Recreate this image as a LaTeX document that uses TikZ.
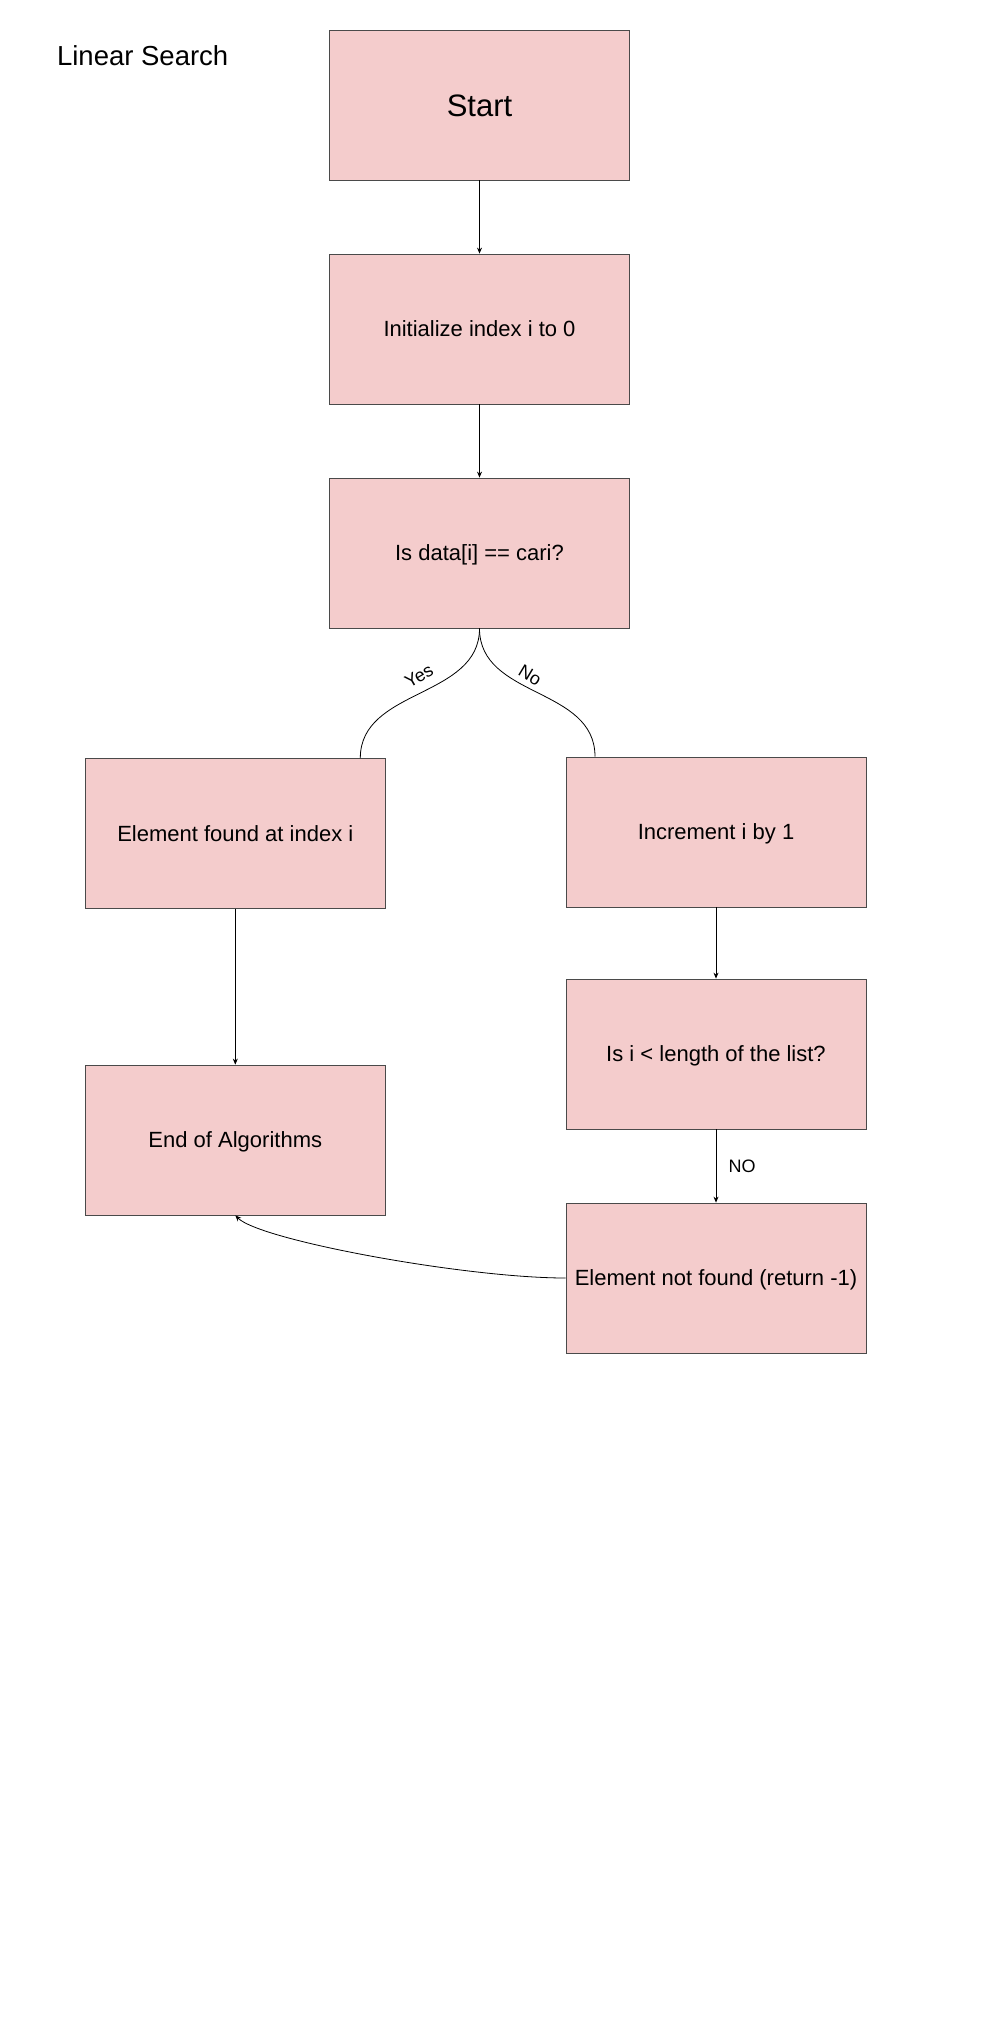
\documentclass[tikz,border=0pt]{standalone}
\usepackage{fontspec}
\setmainfont{Liberation Sans}
\usetikzlibrary{arrows.meta,positioning}
\definecolor{boxfill}{HTML}{F4CCCC}
\definecolor{boxline}{HTML}{4A4A4A}

\tikzset{
  stepbox/.style={draw=boxline, fill=boxfill, line width=0.8pt,
    minimum width=300pt, minimum height=150pt, inner sep=0pt,
    text height=15.8pt, text depth=0pt, font=\fontsize{22}{26}\selectfont},
  flow/.style={-{Stealth[length=6pt,width=5pt]}, line width=0.8pt},
  branch/.style={line width=0.8pt},
  lbl/.style={font=\fontsize{18}{22}\selectfont}
}

\begin{document}
\begin{tikzpicture}[x=1pt,y=-1pt]
\useasboundingbox (0,0) rectangle (999,2035);

\node[font=\fontsize{27.5}{32}\selectfont] (title) at (142.7,56) {Linear Search};

  \node[stepbox, text height=22.2pt, font=\fontsize{31}{36}\selectfont] (start) at (479.5,105) {Start};
  \node[stepbox] (init) at (479.5,329) {Initialize index i to 0};
  \node[stepbox] (check) at (479.5,553) {Is data[i] == cari?};
  \node[stepbox] (found) at (235.3,833.5) {Element found at index i};
  \node[stepbox] (incr) at (716,832) {Increment i by 1};
  \node[stepbox] (finish) at (235.3,1140) {End of Algorithms};
  \node[stepbox] (bound) at (716,1054) {Is i < length of the list?};
  \node[stepbox] (notfound) at (716,1278) {Element not found (return -1)};

  \draw[flow] (start) -- (init);
  \draw[flow] (init) -- (check);
  \draw[branch] (check.south) .. controls +(0,70) and +(0,-70) .. ([xshift=125pt]found.north);
  \draw[branch] (check.south) .. controls +(0,70) and +(0,-70) .. ([xshift=-121pt]incr.north);
  \node[lbl, rotate=30] (yes) at (419,676) {Yes};
  \node[lbl, rotate=-31] (no) at (530,675) {No};
  \draw[flow] (found) -- (finish);
  \draw[flow] (incr) -- (bound);
  \draw[flow] (bound) -- (notfound)
    node[lbl, midway, right, xshift=9pt] {NO};
  \draw[flow] (notfound.west) .. controls +(-100,0) and +(25,25) .. (finish.south);
\end{tikzpicture}
\end{document}
